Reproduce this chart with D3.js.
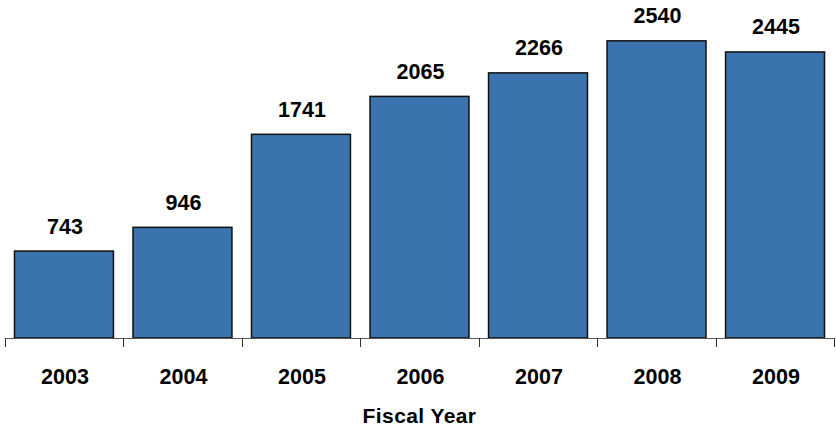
<!DOCTYPE html>
<html>
<head>
<meta charset="utf-8">
<script src="https://cdn.jsdelivr.net/npm/d3@7"></script>
<style>
body{margin:0;background:#fff;}
text{font-family:Arial,"Liberation Sans",sans-serif;font-weight:bold;}
</style>
</head>
<body>
<svg id="chart"></svg>
<script>
var years = ["2003","2004","2005","2006","2007","2008","2009"];
var counts = [743, 946, 1741, 2065, 2266, 2540, 2445];
var xTitle = "Fiscal Year";

var width = 836, height = 427;
var x0 = 5, x1 = 834, base = 338;

var svg = d3.select("#chart").attr("width", width).attr("height", height);

var x = d3.scaleBand().domain(years).range([x0, x1]).paddingInner(0.165).paddingOuter(0.08);
var y = d3.scaleLinear().domain([0, 2889]).range([base, 0]);

// bars
svg.selectAll("rect.bar")
  .data(counts)
  .enter().append("rect")
  .attr("class", "bar")
  .attr("x", function(d, i) { return x(years[i]); })
  .attr("y", function(d) { return y(d); })
  .attr("width", x.bandwidth())
  .attr("height", function(d) { return base - y(d); })
  .attr("fill", "#3a73ad")
  .attr("stroke", "#111")
  .attr("stroke-width", 1.5);

// value labels
svg.selectAll("text.val")
  .data(counts)
  .enter().append("text")
  .attr("class", "val")
  .attr("text-anchor", "middle")
  .attr("x", function(d, i) { return x(years[i]) + x.bandwidth() / 2 + 1; })
  .attr("y", function(d) { return y(d) - 17.5; })
  .attr("font-size", "21.5px")
  .attr("fill", "#000")
  .text(function(d) { return d; });

// axis line + ticks between categories
svg.append("line")
  .attr("x1", x0).attr("x2", x1)
  .attr("y1", base + 0.5).attr("y2", base + 0.5)
  .attr("stroke", "#555").attr("stroke-width", 1);

var bounds = d3.range(years.length + 1).map(function(i) { return x0 + i * (x1 - x0) / years.length; });
svg.selectAll("line.tick")
  .data(bounds)
  .enter().append("line")
  .attr("class", "tick")
  .attr("x1", function(d) { return Math.round(d) + 0.5; })
  .attr("x2", function(d) { return Math.round(d) + 0.5; })
  .attr("y1", base).attr("y2", base + 9)
  .attr("stroke", "#333").attr("stroke-width", 1);

// category labels
svg.selectAll("text.cat")
  .data(years)
  .enter().append("text")
  .attr("class", "cat")
  .attr("text-anchor", "middle")
  .attr("x", function(d) { return x(d) + x.bandwidth() / 2 + 1; })
  .attr("y", 384)
  .attr("font-size", "21.5px")
  .attr("fill", "#000")
  .text(function(d) { return d; });

svg.append("text")
  .attr("text-anchor", "middle")
  .attr("x", (x0 + x1) / 2)
  .attr("y", 423)
  .attr("font-size", "21px")
  .attr("letter-spacing", "0.4px")
  .attr("fill", "#000")
  .text(xTitle);
</script>
</body>
</html>
